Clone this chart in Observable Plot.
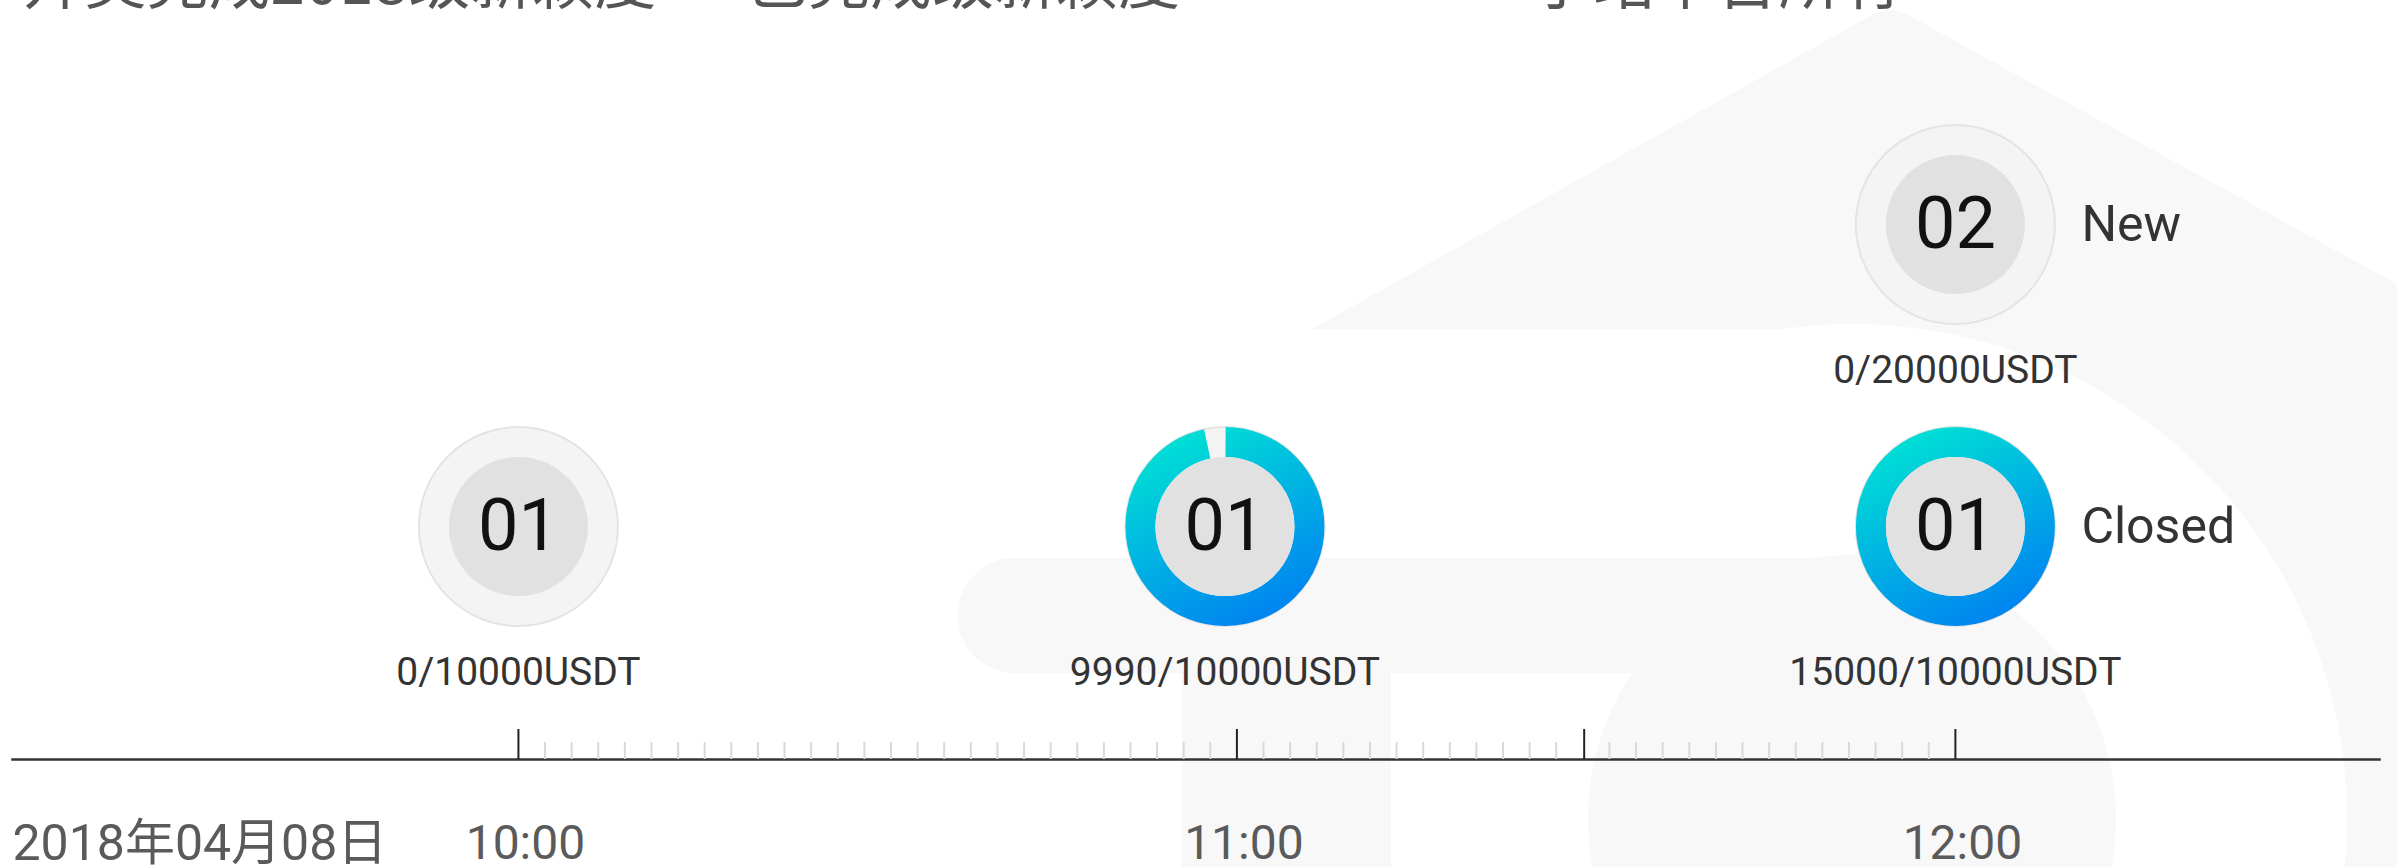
<!DOCTYPE html>
<html>
<head>
<meta charset="utf-8">
<script src="https://cdn.jsdelivr.net/npm/d3@7"></script>
<script src="https://cdn.jsdelivr.net/npm/@observablehq/plot@0.6"></script>
<style>
  html, body { margin: 0; padding: 0; background: #fff; overflow: hidden; }
  #wrap { position: relative; width: 2397px; height: 867px; }
  #bg { position: absolute; left: 0; top: 0; z-index: 0; }
  #chart { position: absolute; left: 0; top: 0; z-index: 1; }
</style>
</head>
<body>
<div id="wrap">
  <!-- faint decorative watermark behind the chart -->
  <svg id="bg" width="2397" height="867" viewBox="0 0 2397 867">
    <g fill="#f8f8f8">
      <path d="M1312,329 L1870,16 Q1890,4 1910,16 L2397,284 L2397,867 L1852,867 L1852,329 Z"/>
    </g>
    <circle cx="1852" cy="819" r="495" fill="#fff"/>
    <g fill="#f8f8f8">
      <circle cx="1852" cy="819" r="264"/>
      <path d="M1015,558 H1852 V673 H1015 A57.5,57.5 0 0 1 1015,558 Z"/>
      <rect x="1182" y="673" width="209" height="194"/>
    </g>
  </svg>
  <div id="chart"></div>
</div>
<script>
// ---------- data ----------
const titleLeft = "开奖完成2018级新颖度 · 已完成级新颖度";
const titleRight = "小站平台所有";
const dateLabel = "2018年04月08日";
const hourTicks = ["10:00", "11:00", "12:00"];
const nowTick = "11:29";
const minorTicksPerHour = 27;

const slotTimes = ["10:00", "10:59", "12:00", "12:00"];
const slotRows = [1, 1, 1, 2];
const roundNos = ["01", "01", "01", "02"];
const raised = [0, 9990, 15000, 0];
const targets = [10000, 10000, 10000, 20000];
const statuses = ["", "", "Closed", "New"];
const ringShown = [0, 0.965, 1, 0];   // share of the ring drawn in colour

// ---------- build ----------
const T = d3.utcParse("%H:%M");
const T2 = d3.utcParse("%H:%M:%S");
const slots = slotTimes.map((t, i) => ({
  time: T(t), row: slotRows[i], no: roundNos[i], raised: raised[i],
  target: targets[i], status: statuses[i], shown: ringShown[i]
}));

const start = T(hourTicks[0]);
const hourMs = 3600000;
const majors = [...hourTicks.map(T), T(nowTick)];
const minors = d3.range(1, 2 * minorTicksPerHour)
  .filter(k => k % minorTicksPerHour !== 0)
  .map(k => new Date(+start + k * hourMs / minorTicksPerHour))
  .filter(d => majors.every(m => Math.abs(d - m) > 60000));

const W = 2397, H = 867;
const mTop = 0, mBottom = 108, mLeft = 12, mRight = 18;
const plotH = H - mTop - mBottom;
const yDomain = [0.2285, 2.742];
const yPx = px => yDomain[0] + px * (yDomain[1] - yDomain[0]) / plotH;

const font = "Roboto, 'Noto Sans CJK SC', sans-serif";
const cjk = "'Noto Sans CJK SC', sans-serif";
const R_OUT = 99.5, R_IN = 69.5, RING = R_OUT - R_IN;
const rMid = (R_OUT + R_IN) / 2, circ = 2 * Math.PI * rMid;

const ringMarks = slots.filter(d => d.shown > 0).map(d => {
  const gap = (1 - d.shown) * circ;
  const opts = { x: "time", y: "row", r: rMid, fill: "none", stroke: "url(#ringGrad)", strokeWidth: RING };
  if (gap > 0) {
    opts.strokeDasharray = `${circ - gap} ${gap}`;
    opts.strokeDashoffset = circ * 0.25;
  }
  return Plot.dot([d], opts);
});

const svg = Plot.plot({
  width: W, height: H,
  marginTop: mTop, marginBottom: mBottom, marginLeft: mLeft, marginRight: mRight,
  style: { fontFamily: font, background: "transparent", overflow: "visible" },
  x: { type: "utc", domain: [T2("09:17:45"), T2("12:35:25")], axis: null },
  y: { domain: yDomain, axis: null },
  marks: [
    // title (cut off at the top, as in the source)
    Plot.text([titleLeft], { frameAnchor: "top-left", dx: 10, dy: 3, lineAnchor: "bottom", textAnchor: "start", fontSize: 62, fill: "#555", fontFamily: cjk }),
    Plot.text([titleRight], { frameAnchor: "top-left", dx: 1518, dy: 3, lineAnchor: "bottom", textAnchor: "start", fontSize: 62, fill: "#555", fontFamily: cjk }),
    // axis baseline
    Plot.frame({ anchor: "bottom", stroke: "#333", strokeWidth: 2.5 }),
    // minor ticks
    Plot.ruleX(minors, { x: d => d, y1: yDomain[0], y2: yPx(17), stroke: "#d9d9d9", strokeWidth: 2 }),
    // major ticks
    Plot.ruleX(majors, { x: d => d, y1: yDomain[0], y2: yPx(30), stroke: "#222", strokeWidth: 2 }),
    // tick labels
    Plot.text(hourTicks, { x: d => T(d), frameAnchor: "bottom", dy: 84, dx: 7, text: d => d, fontSize: 48, fill: "#5a5a5a", lineAnchor: "middle" }),
    Plot.text([dateLabel], { frameAnchor: "bottom-left", dy: 84, textAnchor: "start", fontSize: 50, fill: "#5a5a5a", lineAnchor: "middle" }),
    // circles
    Plot.dot(slots, { x: "time", y: "row", r: R_OUT, fill: "#f4f4f4", stroke: "#e4e4e4", strokeWidth: 2 }),
    ...ringMarks,
    Plot.dot(slots, { x: "time", y: "row", r: R_IN, fill: "#e1e1e1" }),
    Plot.text(slots, { x: "time", y: "row", text: "no", fontSize: 72, fill: "#111", lineAnchor: "middle" }),
    Plot.text(slots, { x: "time", y: "row", text: d => `${d.raised}/${d.target}USDT`, dy: 146, fontSize: 39, fill: "#333", lineAnchor: "middle" }),
    Plot.text(slots, { x: "time", y: "row", text: "status", dx: 126, textAnchor: "start", fontSize: 50, fill: "#333", lineAnchor: "middle" })
  ]
});

// gradient for the progress rings
const ns = "http://www.w3.org/2000/svg";
const defs = document.createElementNS(ns, "defs");
const lg = document.createElementNS(ns, "linearGradient");
lg.setAttribute("id", "ringGrad");
lg.setAttribute("x1", "0.25"); lg.setAttribute("y1", "0");
lg.setAttribute("x2", "0.75"); lg.setAttribute("y2", "1");
[["0", "#00dcd6"], ["1", "#0086f0"]].forEach(([o, c]) => {
  const s = document.createElementNS(ns, "stop");
  s.setAttribute("offset", o); s.setAttribute("stop-color", c);
  lg.appendChild(s);
});
defs.appendChild(lg);
svg.insertBefore(defs, svg.firstChild);

document.getElementById("chart").appendChild(svg);
</script>
</body>
</html>
